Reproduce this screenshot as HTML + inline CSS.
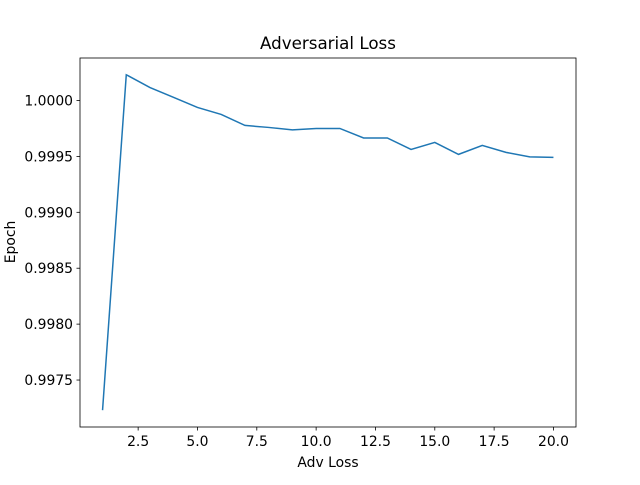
<!DOCTYPE html>
<html><head><meta charset="utf-8"><style>
body{margin:0;background:#fff}
text{font-family:"DejaVu Sans","Liberation Sans",sans-serif;fill:#000}
</style></head><body>
<svg id="chart" width="640" height="480" xmlns="http://www.w3.org/2000/svg">
<rect width="640" height="480" fill="#fff"/>
<text x="328" y="49" font-size="16.7" text-anchor="middle">Adversarial Loss</text>
<text x="328" y="467" font-size="13.9" text-anchor="middle">Adv Loss</text>
<text transform="translate(15,242) rotate(-90)" font-size="13.9" text-anchor="middle">Epoch</text>
<g id="ticks"></g>
<polyline id="line" fill="none" stroke="#1f77b4" stroke-width="1.5"/>
<rect x="80" y="58" width="496" height="369" fill="none" stroke="#000" stroke-width="0.8"/>
</svg>
<script>
const epochs=[1,2,3,4,5,6,7,8,9,10,11,12,13,14,15,16,17,18,19,20];
const losses=[0.99723,1.00023,1.000116,1.000027,0.999938,0.999875,0.999777,0.999759,0.999737,0.99975,0.99975,0.999665,0.999665,0.999562,0.999625,0.999518,0.999598,0.999536,0.999496,0.999491];
const xTicks=[2.5,5.0,7.5,10.0,12.5,15.0,17.5,20.0];
const yTicks=[0.9975,0.9980,0.9985,0.9990,0.9995,1.0000];
const L=80,R=576,T=58,B=427;
const xmin=Math.min(...epochs),xmax=Math.max(...epochs),xm=(xmax-xmin)*0.05;
const ymin=Math.min(...losses),ymax=Math.max(...losses),ym=(ymax-ymin)*0.05;
const sx=v=>L+(v-(xmin-xm))/((xmax+xm)-(xmin-xm))*(R-L);
const sy=v=>B-(v-(ymin-ym))/((ymax+ym)-(ymin-ym))*(B-T);
const NS="http://www.w3.org/2000/svg";
const g=document.getElementById('ticks');
function mk(t,a){const e=document.createElementNS(NS,t);for(const k in a)e.setAttribute(k,a[k]);g.appendChild(e);return e;}
xTicks.forEach(v=>{const x=sx(v);
const l=mk('line',{x1:x,x2:x,y1:B,y2:B+3.5,stroke:'#000','stroke-width':0.8});


const t=mk('text',{x:x,y:B+19,'font-size':13.9,'text-anchor':'middle'});t.textContent=v.toFixed(1);

});
yTicks.forEach(v=>{const y=sy(v);
const l=mk('line',{x1:L-3.5,x2:L,y1:y,y2:y,stroke:'#000','stroke-width':0.8});


const t=mk('text',{x:L-7,y:y+5,'font-size':13.9,'text-anchor':'end'});t.textContent=v.toFixed(4);

});
document.getElementById('line').setAttribute('points',epochs.map((e,i)=>sx(e)+','+sy(losses[i])).join(' '));
</script>
</body></html>
